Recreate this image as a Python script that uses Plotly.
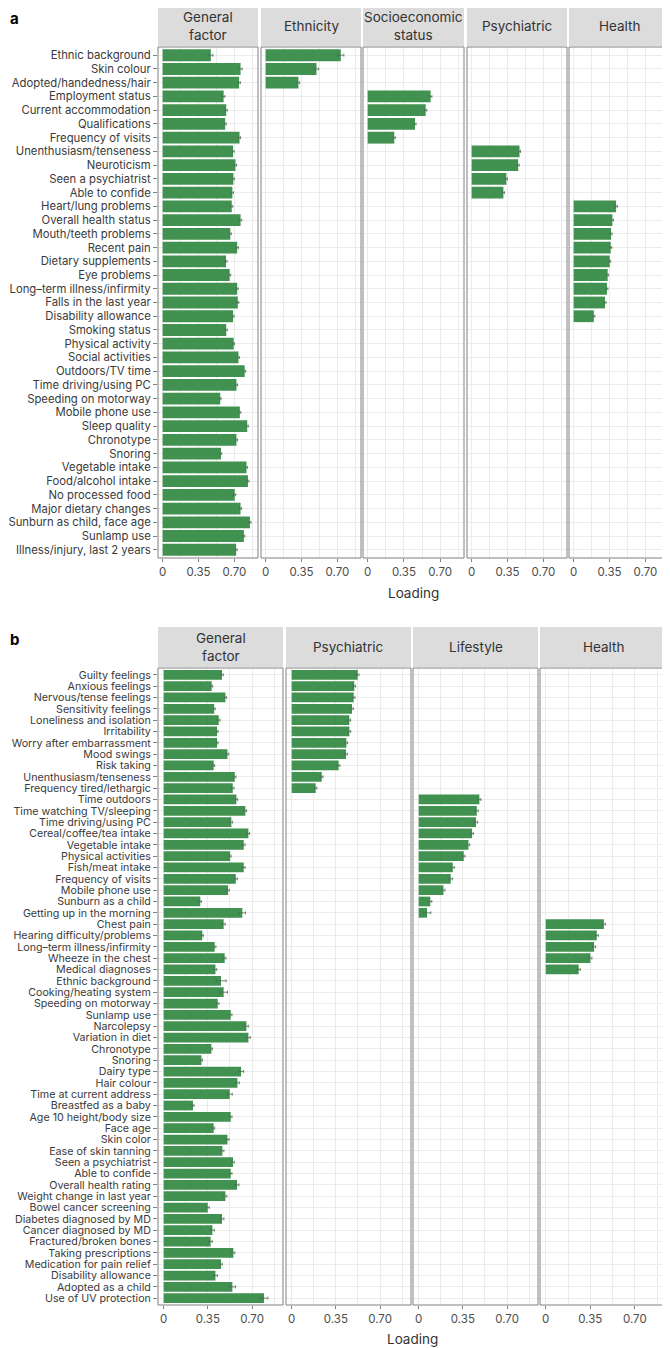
import plotly.graph_objects as go

# page body has an 8px margin, so the figure is drawn 8px in from the window corner
OFF = 8
W, H = 670 - OFF, 1348 - OFF
GREEN = '#419150'
ERR = '#4f6b55'
GRID = '#ebebeb'
BORDER = '#808080'
STRIP = '#dcdcdc'
FONT = 'Inter'


def px(x):
    return (x - OFF) / W


def py(y):
    return 1 - (y - OFF) / H


# ---------- panel a ----------
a_items = [
    'Ethnic background', 'Skin colour', 'Adopted/handedness/hair', 'Employment status',
    'Current accommodation', 'Qualifications', 'Frequency of visits', 'Unenthusiasm/tenseness',
    'Neuroticism', 'Seen a psychiatrist', 'Able to confide', 'Heart/lung problems',
    'Overall health status', 'Mouth/teeth problems', 'Recent pain', 'Dietary supplements',
    'Eye problems', 'Long\u2013term illness/infirmity', 'Falls in the last year', 'Disability allowance',
    'Smoking status', 'Physical activity', 'Social activities', 'Outdoors/TV time',
    'Time driving/using PC', 'Speeding on motorway', 'Mobile phone use', 'Sleep quality',
    'Chronotype', 'Snoring', 'Vegetable intake', 'Food/alcohol intake', 'No processed food',
    'Major dietary changes', 'Sunburn as child, face age', 'Sunlamp use', 'Illness/injury, last 2 years',
]
a_general = [0.47, 0.76, 0.746, 0.595, 0.62, 0.61, 0.75, 0.687, 0.71, 0.69, 0.68, 0.674,
             0.76, 0.66, 0.727, 0.618, 0.654, 0.727, 0.733, 0.687, 0.62, 0.693, 0.74, 0.80,
             0.72, 0.562, 0.753, 0.825, 0.72, 0.569, 0.818, 0.832, 0.703, 0.76, 0.851, 0.792, 0.717]
a_general_err = [0.02, 0.015, 0.012, 0.012, 0.01, 0.01, 0.01, 0.01, 0.01, 0.01, 0.01, 0.01,
                 0.012, 0.01, 0.012, 0.01, 0.01, 0.01, 0.01, 0.01, 0.01, 0.008, 0.01, 0.01,
                 0.01, 0.008, 0.01, 0.01, 0.01, 0.008, 0.01, 0.01, 0.01, 0.01, 0.01, 0.01, 0.01]

a_eth_items = ['Ethnic background', 'Skin colour', 'Adopted/handedness/hair']
a_eth = [0.733, 0.496, 0.32]
a_eth_err = [0.03, 0.02, 0.012]

a_ses_items = ['Employment status', 'Current accommodation', 'Qualifications', 'Frequency of visits']
a_ses = [0.608, 0.56, 0.457, 0.257]
a_ses_err = [0.012, 0.012, 0.01, 0.01]

a_psy_items = ['Unenthusiasm/tenseness', 'Neuroticism', 'Seen a psychiatrist', 'Able to confide']
a_psy = [0.467, 0.454, 0.339, 0.31]
a_psy_err = [0.01, 0.01, 0.01, 0.01]

a_hea_items = ['Heart/lung problems', 'Overall health status', 'Mouth/teeth problems', 'Recent pain',
               'Dietary supplements', 'Eye problems', 'Long\u2013term illness/infirmity',
               'Falls in the last year', 'Disability allowance']
a_hea = [0.414, 0.378, 0.365, 0.362, 0.352, 0.332, 0.325, 0.306, 0.197]
a_hea_err = [0.012, 0.01, 0.01, 0.01, 0.01, 0.01, 0.01, 0.01, 0.01]

# ---------- panel b ----------
b_items = [
    'Guilty feelings', 'Anxious feelings', 'Nervous/tense feelings', 'Sensitivity feelings',
    'Loneliness and isolation', 'Irritability', 'Worry after embarrassment', 'Mood swings',
    'Risk taking', 'Unenthusiasm/tenseness', 'Frequency tired/lethargic', 'Time outdoors',
    'Time watching TV/sleeping', 'Time driving/using PC', 'Cereal/coffee/tea intake',
    'Vegetable intake', 'Physical activities', 'Fish/meat intake', 'Frequency of visits',
    'Mobile phone use', 'Sunburn as a child', 'Getting up in the morning', 'Chest pain',
    'Hearing difficulty/problems', 'Long\u2013term illness/infirmity', 'Wheeze in the chest',
    'Medical diagnoses', 'Ethnic background', 'Cooking/heating system', 'Speeding on motorway',
    'Sunlamp use', 'Narcolepsy', 'Variation in diet', 'Chronotype', 'Snoring', 'Dairy type',
    'Hair colour', 'Time at current address', 'Breastfed as a baby', 'Age 10 height/body size',
    'Face age', 'Skin color', 'Ease of skin tanning', 'Seen a psychiatrist', 'Able to confide',
    'Overall health rating', 'Weight change in last year', 'Bowel cancer screening',
    'Diabetes diagnosed by MD', 'Cancer diagnosed by MD', 'Fractured/broken bones',
    'Taking prescriptions', 'Medication for pain relief', 'Disability allowance',
    'Adopted as a child', 'Use of UV protection',
]
b_general = [0.462, 0.38, 0.489, 0.40, 0.436, 0.423, 0.423, 0.505, 0.396, 0.563, 0.547, 0.576,
             0.647, 0.536, 0.671, 0.634, 0.526, 0.634, 0.571, 0.51, 0.29, 0.623, 0.475, 0.306,
             0.404, 0.483, 0.41, 0.454, 0.475, 0.428, 0.531, 0.655, 0.671, 0.378, 0.299, 0.613,
             0.584, 0.523, 0.232, 0.531, 0.396, 0.505, 0.465, 0.549, 0.531, 0.581, 0.489, 0.349,
             0.462, 0.386, 0.372, 0.552, 0.454, 0.41, 0.544, 0.795]
b_general_err = [0.01, 0.008, 0.008, 0.008, 0.01, 0.008, 0.008, 0.01, 0.008, 0.01, 0.01, 0.01,
                 0.01, 0.01, 0.01, 0.01, 0.008, 0.01, 0.012, 0.01, 0.008, 0.025, 0.012, 0.008,
                 0.01, 0.01, 0.01, 0.04, 0.03, 0.01, 0.01, 0.015, 0.015, 0.008, 0.008, 0.02,
                 0.015, 0.02, 0.008, 0.01, 0.008, 0.012, 0.012, 0.01, 0.01, 0.015, 0.012, 0.012,
                 0.015, 0.015, 0.012, 0.012, 0.01, 0.015, 0.025, 0.03]

b_psy_items = b_items[:11]
b_psy = [0.523, 0.496, 0.491, 0.478, 0.457, 0.457, 0.433, 0.43, 0.372, 0.238, 0.19]
b_psy_err = [0.01, 0.01, 0.01, 0.01, 0.01, 0.01, 0.01, 0.01, 0.01, 0.01, 0.01]

b_life_items = b_items[11:22]
b_life = [0.481, 0.46, 0.454, 0.423, 0.394, 0.357, 0.27, 0.254, 0.196, 0.092, 0.066]
b_life_err = [0.012, 0.012, 0.012, 0.01, 0.01, 0.01, 0.012, 0.015, 0.012, 0.012, 0.03]

b_hea_items = b_items[22:27]
b_hea = [0.457, 0.401, 0.38, 0.351, 0.259]
b_hea_err = [0.012, 0.012, 0.012, 0.012, 0.012]

a_panels = [
    ('General<br>factor', a_items, a_general, a_general_err),
    ('Ethnicity', a_eth_items, a_eth, a_eth_err),
    ('Socioeconomic<br>status', a_ses_items, a_ses, a_ses_err),
    ('Psychiatric', a_psy_items, a_psy, a_psy_err),
    ('Health', a_hea_items, a_hea, a_hea_err),
]
b_panels = [
    ('General<br>factor', b_items, b_general, b_general_err),
    ('Psychiatric', b_psy_items, b_psy, b_psy_err),
    ('Lifestyle', b_life_items, b_life, b_life_err),
    ('Health', b_hea_items, b_hea, b_hea_err),
]

# pixel layout (window coordinates) of each block
blocks = [
    dict(panels=a_panels, cats=a_items, yaxis='y', top=47, bottom=558, strip_top=6,
         xs=[(158, 258), (261, 361), (363, 464), (467, 567), (569, 669)],
         xrange=[-0.045, 0.93], label='a', title_y=593, ysize=11.3),
    dict(panels=b_panels, cats=b_items, yaxis='y2', top=668, bottom=1305, strip_top=627,
         xs=[(158, 283), (286, 411), (413, 538), (540, 666)],
         xrange=[-0.045, 0.945], label='b', title_y=1339, ysize=10.7),
]

fig = go.Figure()
shapes, annotations = [], []
layout = {}
ax = 0

for blk in blocks:
    cats = blk['cats']
    yname = blk['yaxis']
    ykey = 'yaxis' if yname == 'y' else 'yaxis' + yname[1:]
    first_x = None
    for pi, (name, items, vals, errs) in enumerate(blk['panels']):
        ax += 1
        xname = 'x' if ax == 1 else 'x%d' % ax
        xkey = 'xaxis' if ax == 1 else 'xaxis%d' % ax
        if first_x is None:
            first_x = xname
        x0, x1 = blk['xs'][pi]
        fig.add_trace(go.Bar(
            x=vals, y=items, orientation='h', xaxis=xname, yaxis=yname,
            marker=dict(color=GREEN, line=dict(width=0)), width=0.86,
            error_x=dict(type='data', array=errs, color=ERR, thickness=0.8, width=1.5),
            showlegend=False, hoverinfo='x+y',
        ))
        layout[xkey] = dict(
            domain=[px(x0), px(x1)], anchor=yname, range=blk['xrange'],
            tickvals=[0, 0.35, 0.70], ticktext=['0', '0.35', '0.70'],
            ticks='outside', ticklen=3, tickcolor=BORDER, tickwidth=1,
            tickfont=dict(size=11.5, color='#4d4d4d', family=FONT),
            showgrid=True, gridcolor=GRID, gridwidth=1, zeroline=False,
            minor=dict(tickvals=[0.175, 0.525, 0.875], showgrid=True, gridcolor=GRID, gridwidth=0.6),
            showline=False, fixedrange=True,
        )
        # panel border
        shapes.append(dict(type='rect', xref=xname + ' domain', yref=yname + ' domain',
                           x0=0, x1=1, y0=0, y1=1, line=dict(color=BORDER, width=1),
                           layer='above'))
        # strip
        st, sb = blk['strip_top'], blk['top'] - 1
        shapes.append(dict(type='rect', xref='paper', yref='paper',
                           x0=px(x0), x1=px(x1), y0=py(sb), y1=py(st),
                           fillcolor=STRIP, line=dict(width=0), layer='below'))
        annotations.append(dict(text=name, xref='paper', yref='paper',
                                x=px((x0 + x1) / 2), y=py((st + sb) / 2),
                                showarrow=False, xanchor='center', yanchor='middle',
                                font=dict(size=13.5, color='#333333', family=FONT)))
    n = len(cats)
    layout[ykey] = dict(
        domain=[py(blk['bottom']), py(blk['top'])], anchor=first_x,
        type='category', categoryorder='array', categoryarray=cats,
        tickmode='array', tickvals=cats, ticktext=cats,
        range=[n - 0.4, -0.6], ticks='outside', ticklen=4, tickcolor=BORDER,
        tickfont=dict(size=blk['ysize'], color='#3a3a3a', family=FONT),
        showgrid=True, gridcolor=GRID, gridwidth=1, showline=False,
        zeroline=False, fixedrange=True,
    )
    xs = blk['xs']
    annotations.append(dict(text='Loading', xref='paper', yref='paper',
                            x=px((xs[0][0] + xs[-1][1]) / 2), y=py(blk['title_y']),
                            showarrow=False, xanchor='center', yanchor='middle',
                            font=dict(size=13.5, color='#333333', family=FONT)))
    annotations.append(dict(text='<b>%s</b>' % blk['label'], xref='paper', yref='paper',
                            x=0, y=py(blk['strip_top'] + 1),
                            showarrow=False, xanchor='left', yanchor='top',
                            font=dict(size=15, color='#000000', family=FONT)))

fig.update_layout(
    width=W, height=H,
    margin=dict(l=0, r=0, t=0, b=0),
    plot_bgcolor='white', paper_bgcolor='white',
    bargap=0.12,
    shapes=shapes, annotations=annotations,
    font=dict(family=FONT),
    **layout,
)

fig.write_html('out.html')
